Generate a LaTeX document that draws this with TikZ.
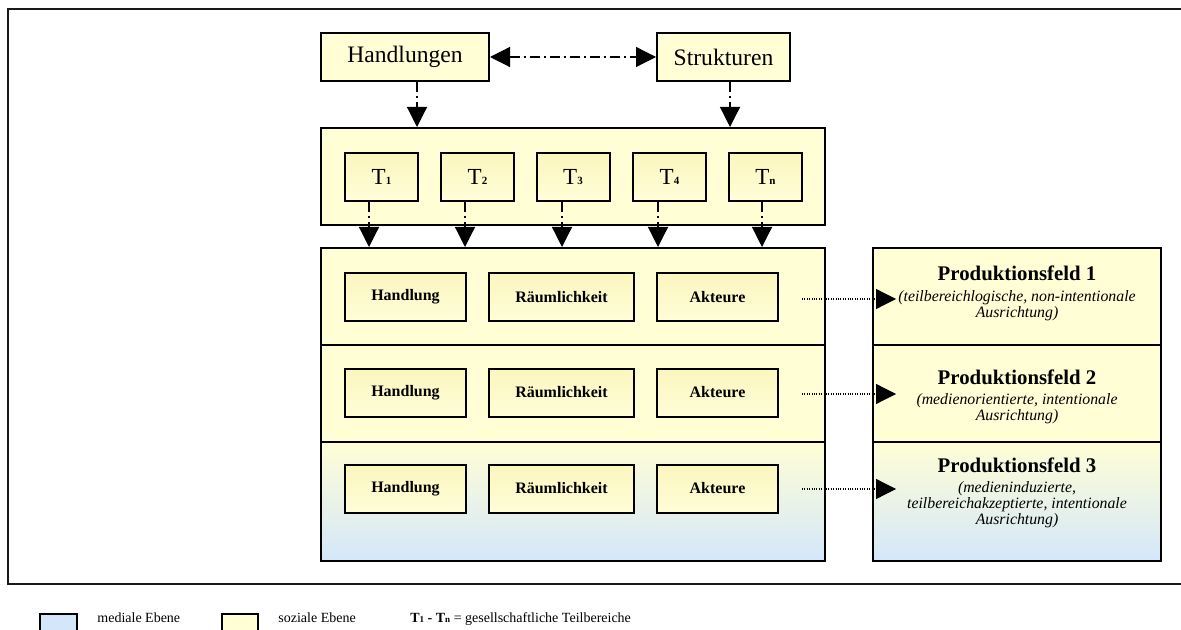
\documentclass[tikz,border=0pt]{standalone}
\usepackage{fontspec}
\setmainfont{Liberation Serif}
\usetikzlibrary{arrows.meta,calc}
\definecolor{soz}{HTML}{FFFED5}
\definecolor{med}{HTML}{D4E7FA}
\definecolor{intop}{HTML}{FBF6BE}
\definecolor{inbot}{HTML}{FFFDD8}
\begin{document}
\begin{tikzpicture}[x=0.5pt,y=-0.5pt,
  frame/.style={draw=black, line width=1pt, fill=soz, inner sep=0pt},
  mixframe/.style={draw=black, line width=1pt, top color=soz, bottom color=med, inner sep=0pt},
  inbox/.style={draw=black, line width=1pt, top color=intop, bottom color=inbot, inner sep=0pt, minimum height=24pt},
  big/.style={font=\fontsize{11.8}{14}\selectfont},
  tlab/.style={font=\fontsize{11.5}{14}\selectfont},
  blab/.style={font=\fontsize{8}{10}\selectfont\bfseries},
  pftitle/.style={font=\fontsize{10.4}{12}\selectfont\bfseries, anchor=base, inner sep=0pt},
  pfsub/.style={font=\fontsize{7.9}{8.1}\selectfont\itshape, anchor=north, align=center, inner sep=0pt},
  ddarrow/.style={line width=0.6pt, dash pattern=on 5pt off 2pt on 1pt off 2pt},
  dotarrow/.style={line width=0.6pt, dash pattern=on 0.5pt off 0.7pt, -{Triangle[length=10pt,width=10pt]}},
  leg/.style={font=\fontsize{7}{8}\selectfont, anchor=base west, inner sep=0pt}
]
\useasboundingbox (0,0) rectangle (1181,630);
\clip (0,0) rectangle (1181,630);
\fill[white] (0,0) rectangle (1181,630);
% outer frame
\draw[line width=1pt, draw=black!90] (8,9) rectangle (1195,584);

% top boxes
\node[frame, big, minimum width=84pt, minimum height=24pt] (H) at (405,57) {Handlungen};
\node[frame, big, minimum width=66.5pt, minimum height=24pt] (S) at (723.5,57) {Strukturen};
\draw[ddarrow, {Triangle[length=10pt,width=10pt]}-{Triangle[length=10pt,width=10pt]}] (H.east) -- (S.west);

% T container
\node[frame, minimum width=252pt, minimum height=48.5pt] (TC) at (573,176.5) {};
\draw[ddarrow, -{Triangle[length=10pt,width=10pt]}] ([xshift=6pt]H.south) -- ([xshift=6pt]H.south |- TC.north);
\draw[ddarrow, -{Triangle[length=10pt,width=10pt]}] ([xshift=3.25pt]S.south) -- ([xshift=3.25pt]S.south |- TC.north);

\node[inbox, tlab, minimum width=36.5pt] (T1) at (381.5,177) {T{\fontsize{5.5}{6}\selectfont\bfseries 1}};
\node[inbox, tlab, minimum width=36.5pt] (T2) at (477.5,177) {T{\fontsize{5.5}{6}\selectfont\bfseries 2}};
\node[inbox, tlab, minimum width=36.5pt] (T3) at (573,177) {T{\fontsize{5.5}{6}\selectfont\bfseries 3}};
\node[inbox, tlab, minimum width=36.5pt] (T4) at (669.5,177) {T{\fontsize{5.5}{6}\selectfont\bfseries 4}};
\node[inbox, tlab, minimum width=36.5pt] (Tn) at (765.5,177) {T{\fontsize{5.5}{6}\selectfont\bfseries n}};

% rows
\node[frame, minimum width=252pt, minimum height=48.5pt] (R1) at (573,296.5) {};
\node[frame, minimum width=252pt, minimum height=48.5pt] (R2) at (573,393.5) {};
\node[mixframe, minimum width=252pt, minimum height=59.5pt] (R3) at (573,501.5) {};

\draw[ddarrow, -{Triangle[length=10pt,width=10pt]}] ([xshift=-6.25pt]T1.south) -- ([xshift=-6.25pt]T1.south |- R1.north);
\draw[ddarrow, -{Triangle[length=10pt,width=10pt]}] ([xshift=-6.25pt]T2.south) -- ([xshift=-6.25pt]T2.south |- R1.north);
\draw[ddarrow, -{Triangle[length=10pt,width=10pt]}] ([xshift=-5.5pt]T3.south) -- ([xshift=-5.5pt]T3.south |- R1.north);
\draw[ddarrow, -{Triangle[length=10pt,width=10pt]}] ([xshift=-5.75pt]T4.south) -- ([xshift=-5.75pt]T4.south |- R1.north);
\draw[ddarrow, -{Triangle[length=10pt,width=10pt]}] ([xshift=-1.75pt]Tn.south) -- ([xshift=-1.75pt]Tn.south |- R1.north);

% inner boxes
\foreach \r/\y in {1/297,2/392.5,3/488.5}{
  \node[inbox, blab, minimum width=60.5pt] (Ha\r) at (405.5,\y) {Handlung};
  \node[inbox, blab, minimum width=72.5pt] (Ra\r) at (561.5,\y) {Räumlichkeit};
  \node[inbox, blab, minimum width=60.5pt] (Ak\r) at (717.5,\y) {Akteure};
}

% Produktionsfeld boxes
\node[frame, minimum width=144pt, minimum height=48.5pt] (PF1) at (1017,296.5) {};
\node[frame, minimum width=144pt, minimum height=48.5pt] (PF2) at (1017,393.5) {};
\node[mixframe, minimum width=144pt, minimum height=59.5pt] (PF3) at (1017,501.5) {};

\node[pftitle] (P1t) at (1017,281) {Produktionsfeld 1};
\node[pfsub] (P1s) at ([yshift=-4.5pt]P1t.base) {(teilbereichlogische, non-intentionale\\Ausrichtung)};
\node[pftitle] (P2t) at (1017,384) {Produktionsfeld 2};
\node[pfsub] (P2s) at ([yshift=-4.5pt]P2t.base) {(medienorientierte, intentionale\\Ausrichtung)};
\node[pftitle] (P3t) at (1017,472) {Produktionsfeld 3};
\node[pfsub] (P3s) at ([yshift=-4.5pt]P3t.base) {(medieninduzierte,\\teilbereichakzeptierte, intentionale\\Ausrichtung)};

\draw[dotarrow] ($(Ak1.east)+(23,2)$) -- ($(PF1.west |- Ak1.east)+(24,2)$);
\draw[dotarrow] ($(Ak2.east)+(23,1.5)$) -- ($(PF2.west |- Ak2.east)+(24,1.5)$);
\draw[dotarrow] ($(Ak3.east)+(23,0.5)$) -- ($(PF3.west |- Ak3.east)+(24,0.5)$);

% legend
\node[draw=black, line width=1pt, fill=med, minimum width=18.5pt, minimum height=14pt, inner sep=0pt] (L1) at (58.5,628) {};
\node[draw=black, line width=1pt, fill=soz, minimum width=18pt, minimum height=14pt, inner sep=0pt] (L2) at (240,628) {};
\node[leg] (L1t) at (97,622) {mediale Ebene};
\node[leg] (L2t) at (278,622) {soziale Ebene};
\node[leg] (L3t) at (410,622) {\textbf{T{\fontsize{4.5}{5}\selectfont 1} - T{\fontsize{4.5}{5}\selectfont n}} = gesellschaftliche Teilbereiche};
\end{tikzpicture}
\end{document}
